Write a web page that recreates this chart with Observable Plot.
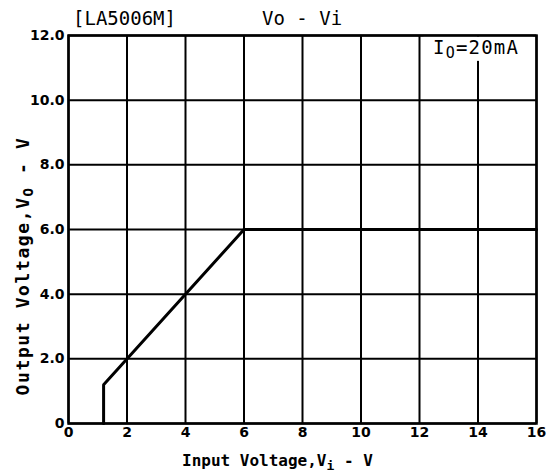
<!DOCTYPE html>
<html><head><meta charset="utf-8">
<script src="https://cdn.jsdelivr.net/npm/d3@7"></script>
<script src="https://cdn.jsdelivr.net/npm/@observablehq/plot@0.6"></script>
<style>body{margin:0;background:#fff} #chart{width:547px;height:475px}</style>
</head><body><div id="chart"></div>
<script>
// Curve: input voltage Vi (V) vs output voltage Vo (V)
const vi = [1.2, 1.2, 6, 16];
const vo = [0, 1.2, 6, 6];
const xTicks = [0, 2, 4, 6, 8, 10, 12, 14, 16];
const xTickLabels = ["0", "2", "4", "6", "8", "10", "12", "14", "16"];
const yTicks = [0, 2, 4, 6, 8, 10, 12];
const yTickLabels = ["0", "2.0", "4.0", "6.0", "8.0", "10.0", "12.0"];
const titleText = "[LA5006M]";
const subtitleText = "Vo - Vi";
const conditionText = ["I", "O", "=20mA"];
const xLabelParts = ["Input Voltage,V", "i", " - V"];
const yLabelParts = ["Output Voltage,V", "O", " - V"];
const conditionBox = [{x1: 12.15, x2: 15.9, y1: 11.2, y2: 11.95}];

const data = vi.map((x, i) => ({x, y: vo[i]}));
const mono = "'DejaVu Sans Mono', 'Liberation Mono', monospace";
const sans = "'DejaVu Sans', sans-serif";

const plot = Plot.plot({
  width: 547,
  height: 475,
  marginLeft: 68,
  marginRight: 11,
  marginTop: 35,
  marginBottom: 52,
  style: {fontFamily: sans, fontSize: "13px", background: "#fff", color: "#000"},
  x: {domain: [0, 16], ticks: xTicks},
  y: {domain: [0, 12], ticks: yTicks},
  marks: [
    Plot.gridX(xTicks, {stroke: "#000", strokeOpacity: 1, strokeWidth: 2}),
    Plot.gridY(yTicks, {stroke: "#000", strokeOpacity: 1, strokeWidth: 2}),
    Plot.rect(conditionBox, {x1: "x1", x2: "x2", y1: "y1", y2: "y2", fill: "#fff"}),
    Plot.frame({stroke: "#000", strokeWidth: 2.5}),
    Plot.line(data, {x: "x", y: "y", stroke: "#000", strokeWidth: 3, strokeLinejoin: "miter"}),
    Plot.axisX(xTicks, {tickSize: 0, tickPadding: 4, label: null, fontSize: 13, fontWeight: "bold",
      tickFormat: d => xTickLabels[xTicks.indexOf(d)]}),
    Plot.axisY(yTicks, {tickSize: 0, tickPadding: 4, label: null, fontSize: 13, fontWeight: "bold",
      tickFormat: d => yTickLabels[yTicks.indexOf(d)]})
  ]
});

const svg = d3.select(plot);
// enlarge all axis tick labels
svg.selectAll("text").style("font-weight", "bold").style("font-size", "14px");

// Title & subtitle
svg.append("text").attr("x", 73).attr("y", 25).attr("text-anchor", "start")
  .style("font-family", mono).style("font-size", "19px").text(titleText);
svg.append("text").attr("x", 262).attr("y", 25).attr("text-anchor", "start")
  .style("font-family", mono).style("font-size", "19px").text(subtitleText);

// Condition label
const cond = svg.append("text").attr("x", 433).attr("y", 54).attr("text-anchor", "start")
  .style("font-family", mono).style("font-size", "19px").style("letter-spacing", "1.2px");
cond.append("tspan").text(conditionText[0]);
cond.append("tspan").attr("dy", 4).style("font-size", "15px").text(conditionText[1]);
cond.append("tspan").attr("dy", -4).text(conditionText[2]);

// X axis label
const xl = svg.append("text").attr("x", 182).attr("y", 466).attr("text-anchor", "start")
  .style("font-family", mono).style("font-size", "16px").style("font-weight", "bold");
xl.append("tspan").text(xLabelParts[0]);
xl.append("tspan").attr("dy", 4).style("font-size", "13px").text(xLabelParts[1]);
xl.append("tspan").attr("dy", -4).text(xLabelParts[2]);

// Y axis label
const yl = svg.append("text").attr("transform", "translate(29,266) rotate(-90)")
  .attr("text-anchor", "middle")
  .style("font-family", mono).style("font-size", "18px").style("font-weight", "bold")
  .style("letter-spacing", "1.6px");
yl.append("tspan").text(yLabelParts[0]);
yl.append("tspan").attr("dy", 4).style("font-size", "14px").text(yLabelParts[1]);
yl.append("tspan").attr("dy", -4).text(yLabelParts[2]);

document.getElementById("chart").appendChild(plot);
</script>
</body></html>
